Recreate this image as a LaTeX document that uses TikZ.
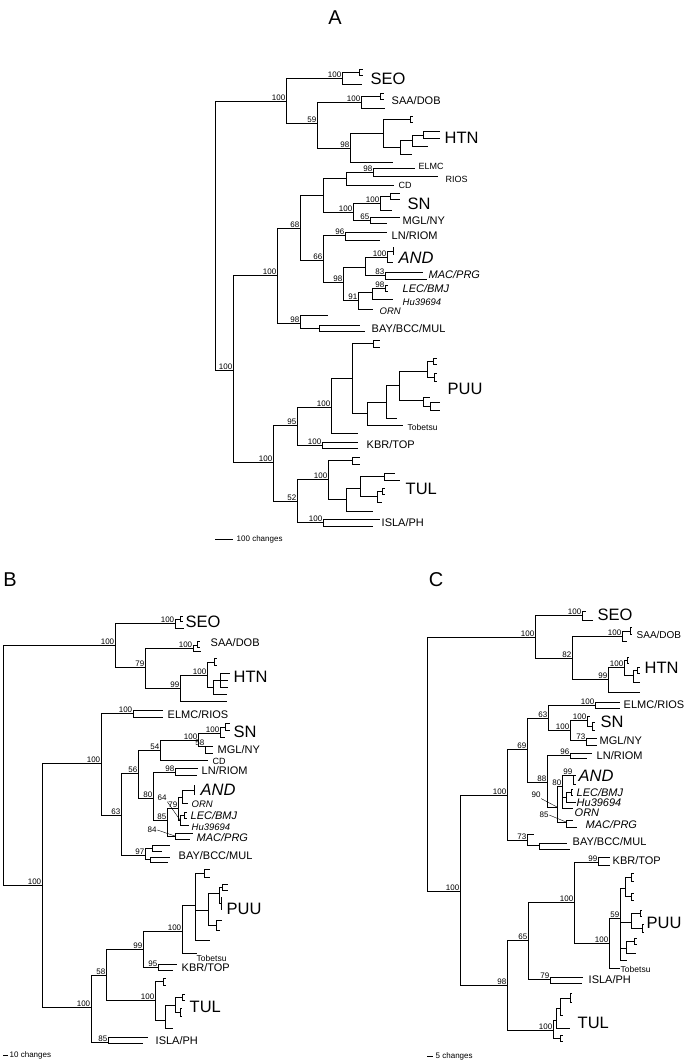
\documentclass[tikz,border=0pt]{standalone}
\usepackage{fontspec}
\setmainfont{Liberation Sans}
\usepackage{tikz}

\tikzset{
  br/.style={line width=1pt},
  bs/.style={font=\fontsize{8}{8}\selectfont, inner sep=0.6pt},
  boot/.style={label={[bs]above left:#1}},
  tx/.style={anchor=west, inner sep=0.5pt, font=\fontsize{11}{12}\selectfont},
  itx/.style={anchor=west, inner sep=0.5pt, font=\fontsize{11}{12}\selectfont\itshape},
  sm/.style={anchor=west, inner sep=0.5pt, font=\fontsize{9}{10}\selectfont},
  ism/.style={anchor=west, inner sep=0.5pt, font=\fontsize{9.5}{10}\selectfont\itshape},
  tob/.style={anchor=west, inner sep=0.5pt, font=\fontsize{8.5}{9}\selectfont},
  big/.style={anchor=west, inner sep=0.5pt, font=\fontsize{16.5}{18}\selectfont},
  ibig/.style={anchor=west, inner sep=0.5pt, font=\fontsize{16.5}{18}\selectfont\itshape},
  scl/.style={anchor=west, inner sep=0.5pt, font=\fontsize{8}{9}\selectfont},
  panel/.style={font=\fontsize{20}{22}\selectfont},
}

\begin{document}
\begin{tikzpicture}[x=1pt, y=-1pt]
\useasboundingbox (0,0) rectangle (693,1063);

% ---------------- Panel A ----------------
\node[panel] (labA) at (335,18) {A};

% Define vertices
\coordinate (aR) at (215,235);
\coordinate[boot=100] (aU) at (286,101);
\coordinate[boot=100] (aSE) at (342,78);
\path (359,72) coordinate (aSEb) (363,69) coordinate (aSE1) (363,75) coordinate (aSE2) (362,84) coordinate (aSE3);
\coordinate[boot=59] (a59) at (317,123);
\coordinate[boot=100] (aSA) at (361,102);
\path (380,96) coordinate (aSAb) (384,93) coordinate (aSA1) (384,99) coordinate (aSA2) (385,108) coordinate (aSA3);
\coordinate[boot=98] (a98) at (350,148);
\path (383,133) coordinate (aH1) (410,119) coordinate (aH1b) (413,116) coordinate (aH11) (413,122) coordinate (aH12);
\path (400,147) coordinate (aH2) (412,140) coordinate (aH3) (423,135) coordinate (aH4);
\path (440,131) coordinate (aH41) (440,138) coordinate (aH42) (428,146) coordinate (aH31);
\path (412,154) coordinate (aH21) (393,162) coordinate (aH0);
\coordinate[boot=100] (aL) at (233,370);
\coordinate[boot=100] (aM) at (277,275);
\coordinate[boot=68] (a68) at (300,228);
\path (323,195) coordinate (aE) (346,178) coordinate (aE2);
\coordinate[boot=98] (aEL) at (373,172);
\path (415,168) coordinate (aELa) (438,176) coordinate (aELb) (394,185) coordinate (aCD);
\coordinate[boot=100] (aS) at (353,212);
\coordinate[boot=100] (aSN) at (380,203);
\path (390,196) coordinate (aSNb) (400,193) coordinate (aSN1) (400,199) coordinate (aSN2) (392,210) coordinate (aSN3);
\coordinate[boot=65] (a65) at (370,220);
\path (400,217) coordinate (a651) (387,223) coordinate (a652);
\coordinate[boot=66] (a66) at (323,260);
\coordinate[boot=96] (a96) at (345,235);
\path (387,232) coordinate (a961) (380,240) coordinate (a962);
\coordinate[boot=98] (a98b) at (343,282);
\coordinate (aAM) at (365,267);
\coordinate[boot=100] (aAND) at (387,257);
\path (393,251) coordinate (aANDb) (393,247) coordinate (aAND1) (393,255) coordinate (aAND2) (393,262) coordinate (aAND3);
\coordinate[boot=83] (a83) at (385,275);
\path (423,272) coordinate (a831) (427,279) coordinate (a832);
\coordinate[boot=91] (a91) at (358,300);
\coordinate (aLH) at (372,292);
\coordinate[boot=98] (aLE) at (385,288);
\path (388,285) coordinate (aLE1) (388,291) coordinate (aLE2) (393,299) coordinate (aHu) (373,309) coordinate (aORN);
\coordinate[boot=98] (aBAY) at (300,323);
\path (328,315) coordinate (aBAY1) (319,328) coordinate (aBAYn) (360,325) coordinate (aBAY2) (365,331) coordinate (aBAY3);
\coordinate[boot=100] (aP) at (273,462);
\coordinate[boot=95] (a95) at (297,425);
\coordinate[boot=100] (aPU) at (331,407);
\path (352,378) coordinate (aP1) (373,343) coordinate (aP1a) (380,340) coordinate (aP1a1) (380,347) coordinate (aP1a2);
\path (367,413) coordinate (aP2) (386,402) coordinate (aP3) (399,385) coordinate (aP4) (427,371) coordinate (aP5);
\path (433,361) coordinate (aP5a) (437,358) coordinate (aP5a1) (437,364) coordinate (aP5a2);
\path (434,377) coordinate (aP5b) (437,373) coordinate (aP5b1) (437,381) coordinate (aP5b2);
\path (423,400) coordinate (aP6) (430,397) coordinate (aP61) (430,406) coordinate (aP6b) (440,402) coordinate (aP6b1) (440,410) coordinate (aP6b2);
\path (397,418) coordinate (aP31) (403,425) coordinate (aTob) (358,433) coordinate (aPU1);
\coordinate[boot=100] (aK) at (322,445);
\path (358,442) coordinate (aK1) (358,448) coordinate (aK2);
\coordinate[boot=52] (a52) at (297,501);
\coordinate[boot=100] (aT) at (328,479);
\path (352,460) coordinate (aTb) (360,457) coordinate (aTb1) (360,464) coordinate (aTb2);
\path (346,499) coordinate (aT1) (360,488) coordinate (aT2) (384,476) coordinate (aT3) (395,473) coordinate (aT31) (400,480) coordinate (aT32);
\path (377,496) coordinate (aT4) (382,491) coordinate (aT4b) (385,488) coordinate (aT4b1) (385,494) coordinate (aT4b2) (382,502) coordinate (aT41);
\path (373,511) coordinate (aT11);
\coordinate[boot=100] (aI) at (323,522);
\path (380,519) coordinate (aI1) (373,526) coordinate (aI2);
\path (215,539) coordinate (aSc1) (233,539) coordinate (aSc2);

% Draw branches
\draw[br] (aR) |- (aU) (aR) |- (aL);
\draw[br] (aU) |- (aSE) (aU) |- (a59)
  (aSE) |- (aSEb) (aSE) |- (aSE3) (aSEb) |- (aSE1) (aSEb) |- (aSE2)
  (a59) |- (aSA) (a59) |- (a98)
  (aSA) |- (aSAb) (aSA) |- (aSA3) (aSAb) |- (aSA1) (aSAb) |- (aSA2)
  (a98) |- (aH1) (a98) |- (aH0)
  (aH1) |- (aH1b) (aH1) |- (aH2) (aH1b) |- (aH11) (aH1b) |- (aH12)
  (aH2) |- (aH3) (aH2) |- (aH21)
  (aH3) |- (aH4) (aH3) |- (aH31) (aH4) |- (aH41) (aH4) |- (aH42);
\draw[br] (aL) |- (aM) (aL) |- (aP)
  (aM) |- (a68) (aM) |- (aBAY)
  (a68) |- (aE) (a68) |- (a66)
  (aE) |- (aE2) (aE) |- (aS)
  (aE2) |- (aEL) (aE2) |- (aCD) (aEL) |- (aELa) (aEL) |- (aELb)
  (aS) |- (aSN) (aS) |- (a65)
  (aSN) |- (aSNb) (aSN) |- (aSN3) (aSNb) |- (aSN1) (aSNb) |- (aSN2)
  (a65) |- (a651) (a65) |- (a652)
  (a66) |- (a96) (a66) |- (a98b) (a96) |- (a961) (a96) |- (a962)
  (a98b) |- (aAM) (a98b) |- (a91)
  (aAM) |- (aAND) (aAM) |- (a83)
  (aAND) |- (aANDb) (aAND) |- (aAND3) (aANDb) |- (aAND1) (aANDb) |- (aAND2)
  (a83) |- (a831) (a83) |- (a832)
  (a91) |- (aLH) (a91) |- (aORN)
  (aLH) |- (aLE) (aLH) |- (aHu) (aLE) |- (aLE1) (aLE) |- (aLE2)
  (aBAY) |- (aBAY1) (aBAY) |- (aBAYn) (aBAYn) |- (aBAY2) (aBAYn) |- (aBAY3);
\draw[br] (aP) |- (a95) (aP) |- (a52)
  (a95) |- (aPU) (a95) |- (aK)
  (aPU) |- (aP1) (aPU) |- (aPU1)
  (aP1) |- (aP1a) (aP1) |- (aP2) (aP1a) |- (aP1a1) (aP1a) |- (aP1a2)
  (aP2) |- (aP3) (aP2) |- (aTob)
  (aP3) |- (aP4) (aP3) |- (aP31)
  (aP4) |- (aP5) (aP4) |- (aP6)
  (aP5) |- (aP5a) (aP5) |- (aP5b) (aP5a) |- (aP5a1) (aP5a) |- (aP5a2) (aP5b) |- (aP5b1) (aP5b) |- (aP5b2)
  (aP6) |- (aP61) (aP6) |- (aP6b) (aP6b) |- (aP6b1) (aP6b) |- (aP6b2)
  (aK) |- (aK1) (aK) |- (aK2)
  (a52) |- (aT) (a52) |- (aI)
  (aT) |- (aTb) (aT) |- (aT1) (aTb) |- (aTb1) (aTb) |- (aTb2)
  (aT1) |- (aT2) (aT1) |- (aT11)
  (aT2) |- (aT3) (aT2) |- (aT4) (aT3) |- (aT31) (aT3) |- (aT32)
  (aT4) |- (aT4b) (aT4) |- (aT41) (aT4b) |- (aT4b1) (aT4b) |- (aT4b2)
  (aI) |- (aI1) (aI) |- (aI2);
\draw[br] (aSc1) -- (aSc2);

% Taxon names
\node[big] (tASEO) at (370,79) {SEO};
\node[tx] (tASAA) at (391,101) {SAA/DOB};
\node[big] (tAHTN) at (444,138) {HTN};
\node[sm] (tAELMC) at (418,166) {ELMC};
\node[sm] (tARIOS) at (445,179) {RIOS};
\node[sm] (tACD) at (398,185) {CD};
\node[big] (tASN) at (407,204) {SN};
\node[tx] (tAMGL) at (402,221) {MGL/NY};
\node[tx] (tALN) at (391,236) {LN/RIOM};
\node[ibig] (tAAND) at (398,258) {AND};
\node[itx] (tAMAC) at (428,275) {MAC/PRG};
\node[itx] (tALEC) at (402,289) {LEC/BMJ};
\node[ism] (tAHu) at (402,302) {Hu39694};
\node[ism] (tAORN) at (379,311) {ORN};
\node[tx] (tABAY) at (371,329) {BAY/BCC/MUL};
\node[big] (tAPUU) at (447,389) {PUU};
\node[tob] (tATob) at (407,427) {Tobetsu};
\node[tx] (tAKBR) at (366,445) {KBR/TOP};
\node[big] (tATUL) at (405,489) {TUL};
\node[tx] (tAISLA) at (381,523) {ISLA/PH};
\node[scl] (tAsc) at (236,539) {100 changes};

% ---------------- Panel B ----------------
\node[panel] (labB) at (10,580) {B};

% Define vertices
\coordinate (bR) at (3,765);
\coordinate[boot=100] (bU) at (115,645);
\coordinate[boot=100] (bSE) at (175,623);
\path (180,619) coordinate (bSEb) (183,616) coordinate (bSE1) (183,621) coordinate (bSE2) (184,628) coordinate (bSE3);
\coordinate[boot=79] (b79) at (145,667);
\coordinate[boot=100] (bSA) at (193,648);
\path (197,645) coordinate (bSAb) (200,641) coordinate (bSA1) (200,647) coordinate (bSA2) (201,651) coordinate (bSA3);
\coordinate[boot=99] (b99) at (180,688);
\coordinate[boot=100] (bH) at (207,675);
\path (214,662) coordinate (bHb) (217,658) coordinate (bHb1) (217,665) coordinate (bHb2);
\path (213,687) coordinate (bH1) (220,680) coordinate (bH2) (230,673) coordinate (bH21) (228,680) coordinate (bH22) (228,687) coordinate (bH23);
\path (227,694) coordinate (bH11) (227,701) coordinate (b991);
\coordinate[boot=100] (bL) at (42,885);
\coordinate[boot=100] (bM) at (101,763);
\coordinate[boot=100] (bEL) at (133,713);
\path (163,710) coordinate (bEL1) (163,717) coordinate (bEL2);
\coordinate[boot=63] (b63) at (121,815);
\coordinate[boot=56] (b56) at (138,773);
\coordinate[boot=54] (b54) at (160,750);
\coordinate[boot=100] (bS) at (198,740);
\coordinate[boot=100] (bSN) at (220,733);
\path (225,727) coordinate (bSNb) (230,723) coordinate (bSN1) (230,730) coordinate (bSN2) (225,737) coordinate (bSN3);
\coordinate[boot=58] (b58) at (205,746);
\path (213,746) coordinate (b581) (213,753) coordinate (b582) (208,760) coordinate (bCD);
\coordinate[boot=80] (b80) at (153,798);
\coordinate[boot=98] (b98) at (175,772);
\path (198,768) coordinate (b981) (197,775) coordinate (b982);
\coordinate[boot=85] (b85) at (167,820);
\coordinate[boot=79] (b79n) at (178,808);
\path (182,797) coordinate (bAO) (194,790) coordinate (bAND) (194,785) coordinate (bAND1) (194,795) coordinate (bAND2) (188,803) coordinate (bORN);
\path (180,820) coordinate (bLH) (184,815) coordinate (bLE) (187,812) coordinate (bLE1) (187,818) coordinate (bLE2) (189,825) coordinate (bHu);
\path (175,836) coordinate (bMAC) (193,833) coordinate (bMAC1) (190,839) coordinate (bMAC2);
\coordinate[boot=97] (b97) at (145,855);
\path (152,848) coordinate (b97a) (170,845) coordinate (b97a1) (162,851) coordinate (b97a2);
\path (150,859) coordinate (b97b) (170,857) coordinate (b97b1) (168,862) coordinate (b97b2);
\coordinate[boot=100] (bP0) at (91,1007);
\coordinate[boot=58] (b58b) at (106,975);
\coordinate[boot=99] (b99b) at (143,949);
\coordinate[boot=100] (bPU) at (182,931);
\path (195,905) coordinate (bP1) (204,873) coordinate (bP1b) (210,869) coordinate (bP1b1) (210,877) coordinate (bP1b2);
\path (208,910) coordinate (bP2) (219,893) coordinate (bP3) (222,887) coordinate (bP3b) (228,884) coordinate (bP3b1) (228,890) coordinate (bP3b2);
\path (221,903) coordinate (bP3c) (221,897) coordinate (bP3c1) (221,910) coordinate (bP3c2);
\path (216,925) coordinate (bP4) (222,920) coordinate (bP41) (220,930) coordinate (bP42);
\path (210,940) coordinate (bP11) (197,953) coordinate (bTob);
\coordinate[boot=95] (b95) at (158,967);
\path (177,964) coordinate (b951) (173,970) coordinate (b952);
\coordinate[boot=100] (bT) at (155,1000);
\path (163,981) coordinate (bTb) (166,978) coordinate (bTb1) (166,985) coordinate (bTb2);
\path (165,1020) coordinate (bT1) (175,1005) coordinate (bT2) (182,997) coordinate (bT2b) (185,994) coordinate (bT2b1) (185,1000) coordinate (bT2b2);
\path (180,1012) coordinate (bT2c) (182,1008) coordinate (bT2c1) (182,1016) coordinate (bT2c2) (173,1028) coordinate (bT11);
\coordinate[boot=85] (bI) at (108,1042);
\path (148,1037) coordinate (bI1) (143,1043) coordinate (bI2);
\path (3,1055) coordinate (bSc1) (8,1055) coordinate (bSc2);

% Draw branches
\draw[br] (bR) |- (bU) (bR) |- (bL);
\draw[br] (bU) |- (bSE) (bU) |- (b79)
  (bSE) |- (bSEb) (bSE) |- (bSE3) (bSEb) |- (bSE1) (bSEb) |- (bSE2)
  (b79) |- (bSA) (b79) |- (b99)
  (bSA) |- (bSAb) (bSA) |- (bSA3) (bSAb) |- (bSA1) (bSAb) |- (bSA2)
  (b99) |- (bH) (b99) |- (b991)
  (bH) |- (bHb) (bH) |- (bH1) (bHb) |- (bHb1) (bHb) |- (bHb2)
  (bH1) |- (bH2) (bH1) |- (bH11) (bH2) |- (bH21) (bH2) |- (bH22) (bH2) |- (bH23);
\draw[br] (bL) |- (bM) (bL) |- (bP0)
  (bM) |- (bEL) (bM) |- (b63) (bEL) |- (bEL1) (bEL) |- (bEL2)
  (b63) |- (b56) (b63) |- (b97)
  (b56) |- (b54) (b56) |- (b80)
  (b54) |- (bS) (b54) |- (bCD)
  (bS) |- (bSN) (bS) |- (b58)
  (bSN) |- (bSNb) (bSN) |- (bSN3) (bSNb) |- (bSN1) (bSNb) |- (bSN2)
  (b58) |- (b581) (b58) |- (b582)
  (b80) |- (b98) (b80) |- (b85) (b98) |- (b981) (b98) |- (b982)
  (b85) |- (b79n) (b85) |- (bMAC)
  (b79n) |- (bAO) (b79n) |- (bLH)
  (bAO) |- (bAND) (bAO) |- (bORN) (bAND) |- (bAND1) (bAND) |- (bAND2)
  (bLH) |- (bLE) (bLH) |- (bHu) (bLE) |- (bLE1) (bLE) |- (bLE2)
  (bMAC) |- (bMAC1) (bMAC) |- (bMAC2)
  (b97) |- (b97a) (b97) |- (b97b) (b97a) |- (b97a1) (b97a) |- (b97a2) (b97b) |- (b97b1) (b97b) |- (b97b2);
\draw[br] (bP0) |- (b58b) (bP0) |- (bI)
  (b58b) |- (b99b) (b58b) |- (bT)
  (b99b) |- (bPU) (b99b) |- (b95)
  (bPU) |- (bP1) (bPU) |- (bTob)
  (bP1) |- (bP1b) (bP1) |- (bP2) (bP1) |- (bP11) (bP1b) |- (bP1b1) (bP1b) |- (bP1b2)
  (bP2) |- (bP3) (bP2) |- (bP4)
  (bP3) |- (bP3b) (bP3) |- (bP3c) (bP3b) |- (bP3b1) (bP3b) |- (bP3b2) (bP3c) |- (bP3c1) (bP3c) |- (bP3c2)
  (bP4) |- (bP41) (bP4) |- (bP42)
  (b95) |- (b951) (b95) |- (b952)
  (bT) |- (bTb) (bT) |- (bT1) (bTb) |- (bTb1) (bTb) |- (bTb2)
  (bT1) |- (bT2) (bT1) |- (bT11)
  (bT2) |- (bT2b) (bT2) |- (bT2c) (bT2b) |- (bT2b1) (bT2b) |- (bT2b2) (bT2c) |- (bT2c1) (bT2c) |- (bT2c2)
  (bI) |- (bI1) (bI) |- (bI2);
\draw[br] (bSc1) -- (bSc2);

% support values with pointer lines
\node[bs] (l64) at (162,798) {64};
\node[bs] (l84) at (152,830) {84};
\draw[line width=0.4pt] (l64.south east) -- (bLH) (l84.east) -- (bMAC);

% Taxon names
\node[big] (tBSEO) at (185,622) {SEO};
\node[tx] (tBSAA) at (210,643) {SAA/DOB};
\node[big] (tBHTN) at (233,677) {HTN};
\node[tx] (tBELMC) at (167,715) {ELMC/RIOS};
\node[big] (tBSN) at (233,732) {SN};
\node[tx] (tBMGL) at (217,750) {MGL/NY};
\node[sm] (tBCD) at (212,761) {CD};
\node[tx] (tBLN) at (201,771) {LN/RIOM};
\node[ibig] (tBAND) at (200,790) {AND};
\node[ism] (tBORN) at (191,804) {ORN};
\node[itx] (tBLEC) at (190,816) {LEC/BMJ};
\node[ism] (tBHu) at (191,827) {Hu39694};
\node[itx] (tBMAC) at (196,838) {MAC/PRG};
\node[tx] (tBBAY) at (178,856) {BAY/BCC/MUL};
\node[big] (tBPUU) at (226,909) {PUU};
\node[tob] (tBTob) at (196,958) {Tobetsu};
\node[tx] (tBKBR) at (181,968) {KBR/TOP};
\node[big] (tBTUL) at (189,1007) {TUL};
\node[tx] (tBISLA) at (155,1041) {ISLA/PH};
\node[scl] (tBsc) at (9,1055) {10 changes};

% ---------------- Panel C ----------------
\node[panel] (labC) at (436,580) {C};

% Define vertices
\coordinate (cR) at (427,760);
\coordinate[boot=100] (cU) at (535,637);
\coordinate[boot=100] (cSE) at (582,615);
\path (586,611) coordinate (cSE1) (593,620) coordinate (cSE2);
\coordinate[boot=82] (c82) at (572,658);
\coordinate[boot=100] (cSA) at (622,636);
\path (630,631) coordinate (cSAb) (632,627) coordinate (cSAb1) (632,634) coordinate (cSAb2) (627,641) coordinate (cSA1);
\coordinate[boot=99] (c99) at (608,679);
\coordinate[boot=100] (cH) at (624,667);
\path (627,660) coordinate (cHb) (629,657) coordinate (cHb1) (629,663) coordinate (cHb2);
\path (633,675) coordinate (cH1) (637,670) coordinate (cH1b) (640,667) coordinate (cH1b1) (640,673) coordinate (cH1b2) (640,682) coordinate (cH11);
\path (640,692) coordinate (c991);
\coordinate[boot=100] (cL) at (460,891);
\coordinate[boot=100] (cM) at (507,795);
\coordinate[boot=69] (c69) at (527,749);
\coordinate[boot=63] (c63) at (548,718);
\coordinate[boot=100] (cEL) at (595,705);
\path (620,702) coordinate (cEL1) (620,708) coordinate (cEL2);
\coordinate[boot=100] (cS) at (570,730);
\coordinate[boot=100] (cSN) at (587,720);
\path (590,716) coordinate (cSN1) (592,726) coordinate (cSNb) (595,722) coordinate (cSNb1) (595,730) coordinate (cSNb2);
\coordinate[boot=73] (c73) at (586,740);
\path (597,738) coordinate (c731) (597,745) coordinate (c732);
\coordinate[boot=88] (c88) at (547,782);
\coordinate[boot=96] (c96) at (570,755);
\path (592,753) coordinate (c961) (587,758) coordinate (c962);
\coordinate (c90) at (557,807);
\coordinate[boot=80] (c80) at (562,786);
\coordinate[boot=99] (cAND) at (573,775);
\path (576,775) coordinate (cAND1) (576,784) coordinate (cAND2);
\path (566,797) coordinate (cLH) (571,792) coordinate (cLE) (573,789) coordinate (cLE1) (573,795) coordinate (cLE2) (576,802) coordinate (cHu);
\path (573,808) coordinate (cORN);
\path (566,822) coordinate (cMAC) (573,820) coordinate (cMAC1) (577,827) coordinate (cMAC2);
\coordinate[boot=73] (c73b) at (527,840);
\path (534,834) coordinate (c73b1) (539,845) coordinate (c73bn) (567,843) coordinate (c73bn1) (570,849) coordinate (c73bn2);
\coordinate[boot=98] (c98) at (507,985);
\coordinate[boot=65] (c65) at (528,940);
\coordinate[boot=100] (cP) at (574,902);
\coordinate[boot=99] (cK) at (598,862);
\path (610,857) coordinate (cK1) (610,865) coordinate (cK2);
\coordinate[boot=100] (cPU) at (609,943);
\coordinate[boot=59] (c59) at (620,918);
\path (625,888) coordinate (cP1) (631,877) coordinate (cP1a) (634,873) coordinate (cP1a1) (634,881) coordinate (cP1a2);
\path (631,896) coordinate (cP1b) (634,893) coordinate (cP1b1) (634,900) coordinate (cP1b2);
\path (631,922) coordinate (cP2) (640,913) coordinate (cP2a) (642,910) coordinate (cP2a1) (642,916) coordinate (cP2a2);
\path (642,928) coordinate (cP2b) (644,924) coordinate (cP2b1) (644,932) coordinate (cP2b2);
\path (626,948) coordinate (cP3) (634,941) coordinate (cP3a) (637,938) coordinate (cP3a1) (637,944) coordinate (cP3a2) (636,953) coordinate (cP31);
\path (627,960) coordinate (cP59e) (620,968) coordinate (cTob);
\coordinate[boot=79] (cI) at (550,979);
\path (583,977) coordinate (cI1) (582,983) coordinate (cI2);
\coordinate[boot=100] (cT) at (553,1030);
\path (556,1020) coordinate (cT1) (560,1008) coordinate (cT2) (570,998) coordinate (cT3) (572,993) coordinate (cT31) (572,1002) coordinate (cT32);
\path (563,1015) coordinate (cT21) (570,1028) coordinate (cT11);
\path (560,1038) coordinate (cTb) (563,1035) coordinate (cTb1) (563,1041) coordinate (cTb2);
\path (427,1056) coordinate (cSc1) (433,1056) coordinate (cSc2);

% Draw branches
\draw[br] (cR) |- (cU) (cR) |- (cL);
\draw[br] (cU) |- (cSE) (cU) |- (c82)
  (cSE) |- (cSE1) (cSE) |- (cSE2)
  (c82) |- (cSA) (c82) |- (c99)
  (cSA) |- (cSAb) (cSA) |- (cSA1) (cSAb) |- (cSAb1) (cSAb) |- (cSAb2)
  (c99) |- (cH) (c99) |- (c991)
  (cH) |- (cHb) (cH) |- (cH1) (cHb) |- (cHb1) (cHb) |- (cHb2)
  (cH1) |- (cH1b) (cH1) |- (cH11) (cH1b) |- (cH1b1) (cH1b) |- (cH1b2);
\draw[br] (cL) |- (cM) (cL) |- (c98)
  (cM) |- (c69) (cM) |- (c73b)
  (c69) |- (c63) (c69) |- (c88)
  (c63) |- (cEL) (c63) |- (cS) (cEL) |- (cEL1) (cEL) |- (cEL2)
  (cS) |- (cSN) (cS) |- (c73)
  (cSN) |- (cSN1) (cSN) |- (cSNb) (cSNb) |- (cSNb1) (cSNb) |- (cSNb2)
  (c73) |- (c731) (c73) |- (c732)
  (c88) |- (c96) (c88) |- (c90) (c96) |- (c961) (c96) |- (c962)
  (c90) |- (c80) (c90) |- (cMAC)
  (c80) |- (cAND) (c80) |- (cLH) (c80) |- (cORN)
  (cAND) |- (cAND1) (cAND) |- (cAND2)
  (cLH) |- (cLE) (cLH) |- (cHu) (cLE) |- (cLE1) (cLE) |- (cLE2)
  (cMAC) |- (cMAC1) (cMAC) |- (cMAC2)
  (c73b) |- (c73b1) (c73b) |- (c73bn) (c73bn) |- (c73bn1) (c73bn) |- (c73bn2);
\draw[br] (c98) |- (c65) (c98) |- (cT)
  (c65) |- (cP) (c65) |- (cI)
  (cP) |- (cK) (cP) |- (cPU) (cK) |- (cK1) (cK) |- (cK2)
  (cPU) |- (c59) (cPU) |- (cTob)
  (c59) |- (cP1) (c59) |- (cP2) (c59) |- (cP3) (c59) |- (cP59e)
  (cP1) |- (cP1a) (cP1) |- (cP1b) (cP1a) |- (cP1a1) (cP1a) |- (cP1a2) (cP1b) |- (cP1b1) (cP1b) |- (cP1b2)
  (cP2) |- (cP2a) (cP2) |- (cP2b) (cP2a) |- (cP2a1) (cP2a) |- (cP2a2) (cP2b) |- (cP2b1) (cP2b) |- (cP2b2)
  (cP3) |- (cP3a) (cP3) |- (cP31) (cP3a) |- (cP3a1) (cP3a) |- (cP3a2)
  (cI) |- (cI1) (cI) |- (cI2)
  (cT) |- (cT1) (cT) |- (cTb) (cTb) |- (cTb1) (cTb) |- (cTb2)
  (cT1) |- (cT2) (cT1) |- (cT11)
  (cT2) |- (cT3) (cT2) |- (cT21) (cT3) |- (cT31) (cT3) |- (cT32);
\draw[br] (cSc1) -- (cSc2);

% support values with pointer lines
\node[bs] (l90) at (536,795) {90};
\node[bs] (l85) at (544,815) {85};
\draw[line width=0.4pt] (l90.south east) -- (c90) (l85.east) -- (cMAC);

% Taxon names
\node[big] (tCSEO) at (597,615) {SEO};
\node[tx, font=\fontsize{10}{11}\selectfont] (tCSAA) at (636,635) {SAA/DOB};
\node[big] (tCHTN) at (644,668) {HTN};
\node[tx] (tCELMC) at (623,705) {ELMC/RIOS};
\node[big] (tCSN) at (600,722) {SN};
\node[tx] (tCMGL) at (599,741) {MGL/NY};
\node[tx] (tCLN) at (596,756) {LN/RIOM};
\node[ibig] (tCAND) at (578,776) {AND};
\node[itx] (tCLEC) at (576,793) {LEC/BMJ};
\node[itx] (tCHu) at (576,803) {Hu39694};
\node[itx] (tCORN) at (574,813) {ORN};
\node[itx] (tCMAC) at (585,825) {MAC/PRG};
\node[tx] (tCBAY) at (572,842) {BAY/BCC/MUL};
\node[tx] (tCKBR) at (612,861) {KBR/TOP};
\node[big] (tCPUU) at (646,923) {PUU};
\node[tob] (tCTob) at (620,969) {Tobetsu};
\node[tx] (tCISLA) at (588,980) {ISLA/PH};
\node[big] (tCTUL) at (577,1023) {TUL};
\node[scl] (tCsc) at (435,1056) {5 changes};
\end{tikzpicture}
\end{document}
